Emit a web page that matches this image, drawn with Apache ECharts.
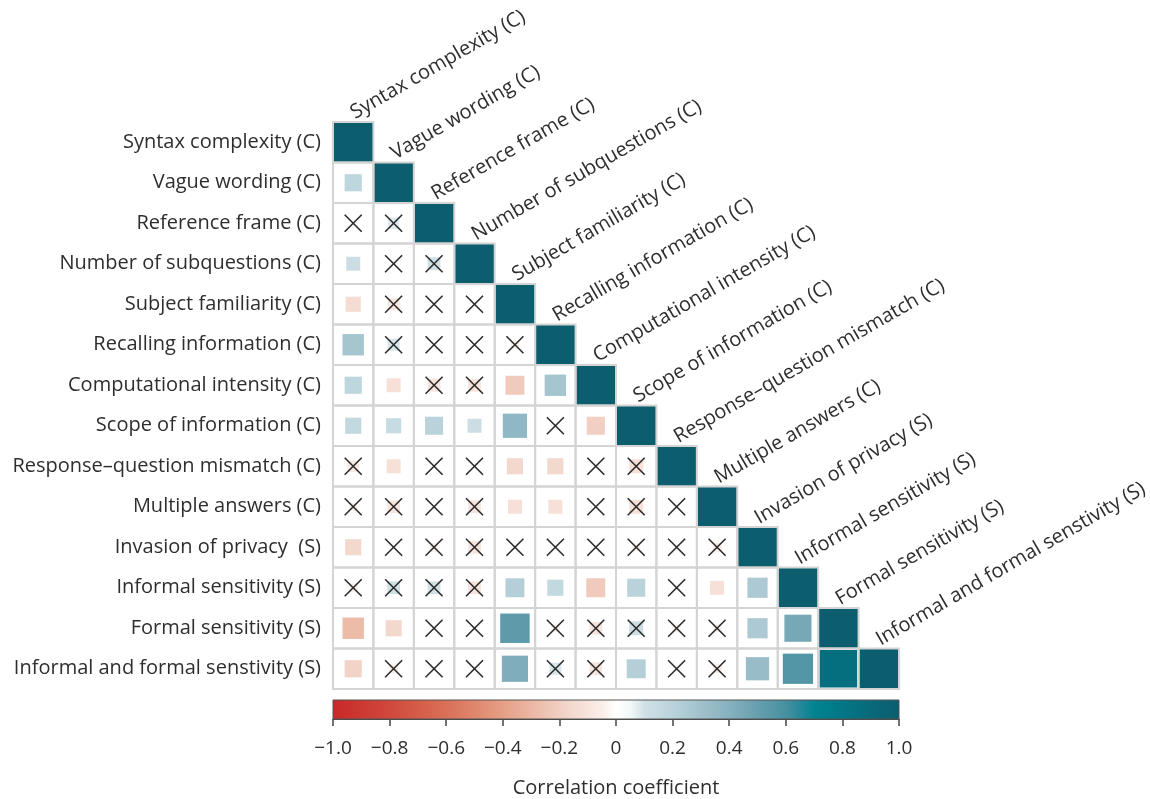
<!DOCTYPE html>
<html>
<head>
<meta charset="utf-8">
<title>Correlation matrix</title>
<script src="https://cdn.jsdelivr.net/npm/echarts@6/dist/echarts.min.js"></script>
<style>
  html, body { margin: 0; padding: 0; background: #ffffff; }
  #chart { width: 1150px; height: 799px; }
</style>
</head>
<body>
<div id="chart"></div>
<script>
// Row labels (left) in matrix order
const variables = [
  'Syntax complexity (C)',
  'Vague wording (C)',
  'Reference frame (C)',
  'Number of subquestions (C)',
  'Subject familiarity (C)',
  'Recalling information (C)',
  'Computational intensity (C)',
  'Scope of information (C)',
  'Response\u2013question mismatch (C)',
  'Multiple answers (C)',
  'Invasion of privacy  (S)',
  'Informal sensitivity (S)',
  'Formal sensitivity (S)',
  'Informal and formal senstivity (S)'
];

// Column labels written diagonally above the matrix
const columnLabels = [
  'Syntax complexity (C)',
  'Vague wording (C)',
  'Reference frame (C)',
  'Number of subquestions (C)',
  'Subject familiarity (C)',
  'Recalling information (C)',
  'Computational intensity (C)',
  'Scope of information (C)',
  'Response\u2013question mismatch (C)',
  'Multiple answers (C)',
  'Invasion of privacy (S)',
  'Informal sensitivity (S)',
  'Formal sensitivity (S)',
  'Informal and formal senstivity (S)'
];

// Lower-triangle correlations: row i holds r(i, j) for j < i
const corrRows = [
  [],
  [0.18],
  [0.02, 0.08],
  [0.12, 0.02, 0.10],
  [-0.14, -0.09, -0.02, 0.01],
  [0.28, 0.09, 0.02, -0.01, -0.04],
  [0.18, -0.12, -0.10, -0.10, -0.22, 0.28],
  [0.16, 0.14, 0.20, 0.12, 0.36, 0.02, -0.20],
  [-0.08, -0.12, 0.01, -0.02, -0.16, -0.16, 0.02, -0.12],
  [-0.04, -0.10, 0.01, -0.10, -0.12, -0.12, 0.01, -0.12, 0.02],
  [-0.16, 0.01, -0.05, -0.10, 0.02, 0.01, 0.02, -0.04, 0.02, -0.05],
  [-0.05, 0.10, 0.10, -0.10, 0.22, 0.16, -0.22, 0.20, 0.02, -0.12, 0.25],
  [-0.28, -0.16, 0.01, -0.02, 0.53, -0.04, -0.10, 0.12, -0.04, -0.04, 0.25, 0.45],
  [-0.18, -0.05, 0.01, -0.02, 0.42, 0.09, -0.10, 0.22, 0.02, -0.05, 0.33, 0.56, 0.86]
];

// Significance flags matching corrRows: 0 = not significant (crossed out)
const sigRows = [
  [],
  [1],
  [0, 0],
  [1, 0, 0],
  [1, 0, 0, 0],
  [1, 0, 0, 0, 0],
  [1, 1, 0, 0, 1, 1],
  [1, 1, 1, 1, 1, 0, 1],
  [0, 1, 0, 0, 1, 1, 0, 0],
  [0, 0, 0, 0, 1, 1, 0, 0, 0],
  [1, 0, 0, 0, 0, 0, 0, 0, 0, 0],
  [0, 0, 0, 0, 1, 1, 1, 1, 0, 1, 1],
  [1, 1, 0, 0, 1, 0, 0, 0, 0, 0, 1, 1],
  [1, 0, 0, 0, 1, 0, 0, 1, 0, 0, 1, 1, 1]
];

// Diverging palette, evenly spaced from -1 to 1 in steps of 0.05
const scaleColors = [
  '#c8292a', '#ca302d', '#cc3832', '#ce4037', '#d0483c', '#d25242', '#d55c49',
  '#d76650', '#d97058', '#dc7b62', '#df876d', '#e29379', '#e59f86', '#e8ab94',
  '#ebb7a3', '#eec3b2', '#f1cfc2', '#f4dad0', '#f7e4dd', '#faeee9', '#ffffff',
  '#f4f8f9', '#d0e1e6', '#c5dae1', '#bad3db', '#adcad4', '#a0c1cc', '#93b9c5',
  '#86b1be', '#77a8b6', '#679fae', '#5698a7', '#4690a0', '#268898', '#008390',
  '#007d8b', '#037686', '#057080', '#08697a', '#0a6373', '#0c5d6d'
];

const scaleMin = -1;
const scaleMax = 1;
const scaleStep = 0.2;

const FONT = '"Open Sans", Lato, sans-serif';
const FONT_SIZE = 20;
const TEXT = '#2e2e2e';

// Build the cell table from the arrays above
const cellData = [];
const frameData = [];
const diagData = [];
for (let i = 0; i < variables.length; i++) {
  for (let j = 0; j < i; j++) {
    cellData.push([j, i, corrRows[i][j], sigRows[i][j]]);
    frameData.push([j, i]);
  }
  cellData.push([i, i, 1, 1]);
  frameData.push([i, i]);
  diagData.push([i, i]);
}

const chart = echarts.init(document.getElementById('chart'), null, { renderer: 'canvas' });

const option = {
  backgroundColor: '#ffffff',
  animation: false,
  grid: [
    { left: 333, top: 122, width: 566, height: 567 },
    { left: 333, top: 700, width: 566, height: 20 }
  ],
  xAxis: [
    {
      gridIndex: 0, type: 'category', data: variables, show: false
    },
    {
      gridIndex: 1, type: 'value', min: scaleMin, max: scaleMax, interval: scaleStep,
      position: 'bottom',
      axisLine: { show: true, lineStyle: { color: '#444444', width: 1 } },
      axisTick: { show: true, length: 7, lineStyle: { color: '#444444', width: 1.5 } },
      splitLine: { show: false },
      axisLabel: {
        show: true, margin: 20, fontSize: 19, fontFamily: FONT, color: TEXT,
        showMinLabel: true, showMaxLabel: true,
        formatter: function (v) {
          if (Math.abs(v) < 1e-9) return '0';
          return (v < 0 ? '\u2212' : '') + Math.abs(v).toFixed(1);
        }
      },
      name: 'Correlation coefficient',
      nameLocation: 'middle',
      nameGap: 59,
      nameTextStyle: { fontSize: 20, fontFamily: FONT, color: TEXT }
    }
  ],
  yAxis: [
    {
      gridIndex: 0, type: 'category', data: variables, inverse: true,
      axisLine: { show: false }, axisTick: { show: false }, splitLine: { show: false },
      axisLabel: { margin: 12, fontSize: FONT_SIZE, fontFamily: FONT, color: TEXT }
    },
    {
      gridIndex: 1, type: 'value', min: 0, max: 1, show: false
    }
  ],
  visualMap: {
    type: 'continuous',
    show: false,
    min: scaleMin,
    max: scaleMax,
    dimension: 2,
    seriesIndex: 0,
    inRange: { color: scaleColors }
  },
  series: [
    {
      // Squares: side proportional to sqrt(|r|), crosses for non-significant pairs
      type: 'custom',
      name: 'correlation',
      xAxisIndex: 0, yAxisIndex: 0,
      data: cellData,
      z: 2,
      renderItem: function (params, api) {
        const c = api.coord([api.value(0), api.value(1)]);
        const sz = api.size([1, 1]);
        const r = api.value(2);
        const side = Math.sqrt(Math.abs(r)) * sz[0];
        const children = [{
          type: 'rect',
          shape: { x: c[0] - side / 2, y: c[1] - side / 2, width: side, height: side },
          style: { fill: api.visual('color') }
        }];
        if (!api.value(3)) {
          const h = 8.5;
          const st = { stroke: '#2a2a2a', lineWidth: 1.6 };
          children.push({ type: 'line', z2: 5, shape: { x1: c[0] - h, y1: c[1] - h, x2: c[0] + h, y2: c[1] + h }, style: st });
          children.push({ type: 'line', z2: 5, shape: { x1: c[0] - h, y1: c[1] + h, x2: c[0] + h, y2: c[1] - h }, style: st });
        }
        return { type: 'group', children: children };
      }
    },
    {
      // Cell outlines of the lower triangle
      type: 'custom',
      name: 'frame',
      xAxisIndex: 0, yAxisIndex: 0,
      data: frameData,
      z: 3,
      silent: true,
      renderItem: function (params, api) {
        const c = api.coord([api.value(0), api.value(1)]);
        const sz = api.size([1, 1]);
        return {
          type: 'rect',
          shape: { x: c[0] - sz[0] / 2, y: c[1] - sz[1] / 2, width: sz[0], height: sz[1] },
          style: { fill: 'none', stroke: '#d4d4d4', lineWidth: 2 }
        };
      }
    },
    {
      // Column names along the diagonal
      type: 'custom',
      name: 'columns',
      xAxisIndex: 0, yAxisIndex: 0,
      data: diagData,
      z: 4,
      silent: true,
      renderItem: function (params, api) {
        const k = api.value(0);
        const c = api.coord([k, api.value(1)]);
        const sz = api.size([1, 1]);
        return {
          type: 'text',
          x: c[0] + 4,
          y: c[1] - sz[1] / 2 + 1,
          rotation: Math.PI / 6,
          style: {
            text: columnLabels[k],
            x: 0, y: 0,
            align: 'left',
            verticalAlign: 'bottom',
            fontSize: FONT_SIZE,
            fontFamily: FONT,
            fill: TEXT
          }
        };
      }
    },
    {
      // Colour bar
      type: 'custom',
      name: 'colorbar',
      xAxisIndex: 1, yAxisIndex: 1,
      data: [[scaleMin, 0, scaleMax, 1]],
      z: 2,
      silent: true,
      renderItem: function (params, api) {
        const p0 = api.coord([api.value(0), api.value(3)]);
        const p1 = api.coord([api.value(2), api.value(1)]);
        const stops = scaleColors.map(function (col, idx) {
          return { offset: idx / (scaleColors.length - 1), color: col };
        });
        return {
          type: 'rect',
          shape: { x: p0[0], y: p0[1], width: p1[0] - p0[0], height: p1[1] - p0[1] },
          style: {
            fill: new echarts.graphic.LinearGradient(0, 0, 1, 0, stops),
            stroke: '#555555',
            lineWidth: 1
          }
        };
      }
    }
  ]
};

chart.setOption(option);
</script>
</body>
</html>
